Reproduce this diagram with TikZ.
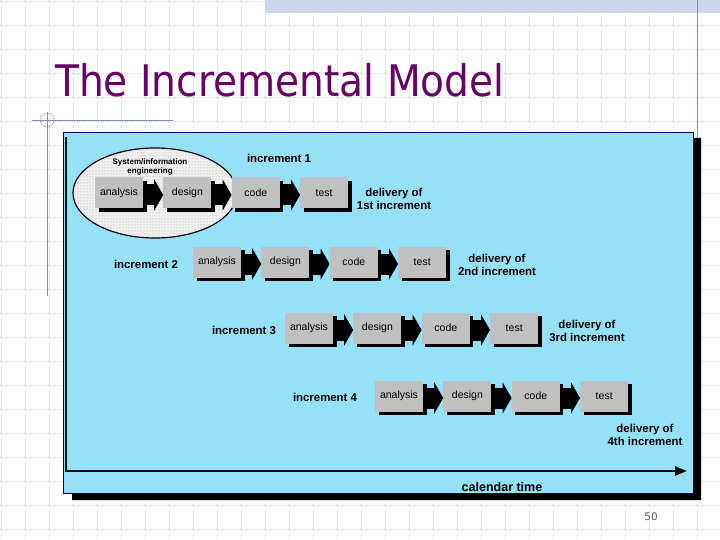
\documentclass[tikz,border=0pt]{standalone}
\usepackage{fontspec}
\setmainfont{Liberation Sans}
\newfontfamily\ttlfont{DejaVu Sans Condensed}
\newfontfamily\numfont{DejaVu Sans}
\usetikzlibrary{arrows.meta,positioning,shadows,patterns}
\definecolor{panel}{RGB}{150,225,250}
\definecolor{boxg}{RGB}{192,192,192}
\definecolor{ttl}{RGB}{102,0,102}
\definecolor{rule}{RGB}{125,140,190}
\definecolor{gridc}{RGB}{205,205,205}
\definecolor{band}{RGB}{205,215,236}

\begin{document}
\begin{tikzpicture}[x=1pt,y=-1pt,node distance=20pt,
 s/.style={fill=boxg,minimum width=48pt,minimum height=31pt,inner sep=0pt,font=\fontsize{10.5}{12}\selectfont,drop shadow={shadow xshift=3.5pt,shadow yshift=-3.5pt,fill=black,opacity=1}},
 ar/.style={line width=21pt,-{Triangle[length=9pt,width=31pt]}},
 l/.style={font=\bfseries\fontsize{11.4}{13.6}\selectfont,align=center,inner sep=0pt}]
 \useasboundingbox (0,0) rectangle (720,540);
 \foreach \k in {0,...,30} \draw[gridc,dotted] (24*\k+1,0) -- (24*\k+1,540);
 \foreach \k in {0,...,22} \draw[gridc,dotted] (0,24*\k+1) -- (720,24*\k+1);
 \fill[band] (265,0) rectangle (720,13);
 \draw[rule] (697,0) -- (697,138);
 \draw[rule] (32,120) -- (173,120);
 \draw[rule] (47,112) -- (47,296);
 \draw[rule] (47,120) circle [radius=7];
 \node[anchor=base west,inner sep=0pt,text=ttl,font=\ttlfont\fontsize{43.5}{48}\selectfont] (ttl) at (55,97) {The Incremental Model};
 \fill[black] (693,138) rectangle (701,500) (72,493) rectangle (701,500);
 \draw[fill=panel,draw=blue!40!black] (63,132) rectangle (693,493);
 \coordinate (top) at (66,137); \coordinate (o) at (66,471); \coordinate (end) at (687,471);
 \draw[line width=2.5pt,-{Triangle[length=12pt,width=9pt]}] (top) -- (o) -- (end);
 \node[l,font=\bfseries\fontsize{12.5}{14}\selectfont] (ct) at (502,487) {calendar time};
 \draw[line width=1.2pt,fill=gray!12] (155,193) ellipse [x radius=82,y radius=45];
 \fill[pattern=dots,pattern color=gray!70] (155,193) ellipse [x radius=81,y radius=44];
 \node[l,font=\bfseries\fontsize{8}{9.5}\selectfont] (sys) at (150,167) {System/information\\engineering};
 \node[s] (a1) at (119,193) {analysis};
 \node[s,right=of a1] (d1) {design};
 \node[s,right=of d1] (c1) {code};
 \node[s,right=of c1] (t1) {test};
 \node[s] (a2) at (217,262) {analysis};
 \node[s,right=of a2] (d2) {design};
 \node[s,right=of d2] (c2) {code};
 \node[s,right=of c2] (t2) {test};
 \node[s] (a3) at (309,328) {analysis};
 \node[s,right=of a3] (d3) {design};
 \node[s,right=of d3] (c3) {code};
 \node[s,right=of c3] (t3) {test};
 \node[s] (a4) at (399,396) {analysis};
 \node[s,right=of a4] (d4) {design};
 \node[s,right=of d4] (c4) {code};
 \node[s,right=of c4] (t4) {test};
 \foreach \r in {1,2,3,4} {
  \draw[ar] ([yshift=-2pt]a\r.east) -- ([yshift=-2pt]d\r.west);
  \draw[ar] ([yshift=-2pt]d\r.east) -- ([yshift=-2pt]c\r.west);
  \draw[ar] ([yshift=-2pt]c\r.east) -- ([yshift=-2pt]t\r.west);
 }
 \node[l] (i1) at (279,158) {increment 1};
 \node[l] (i2) at (146,264) {increment 2};
 \node[l] (i3) at (244,330) {increment 3};
 \node[l] (i4) at (325,397) {increment 4};
 \node[l] (v1) at (394,199) {delivery of\\1st increment};
 \node[l] (v2) at (497,265) {delivery of\\2nd increment};
 \node[l] (v3) at (587,331) {delivery of\\3rd increment};
 \node[l] (v4) at (645,435) {delivery of\\4th increment};
 \node[text=gray!70!black,font=\numfont\fontsize{10.5}{12}\selectfont] (pg) at (651,517) {50};
\end{tikzpicture}
\end{document}
